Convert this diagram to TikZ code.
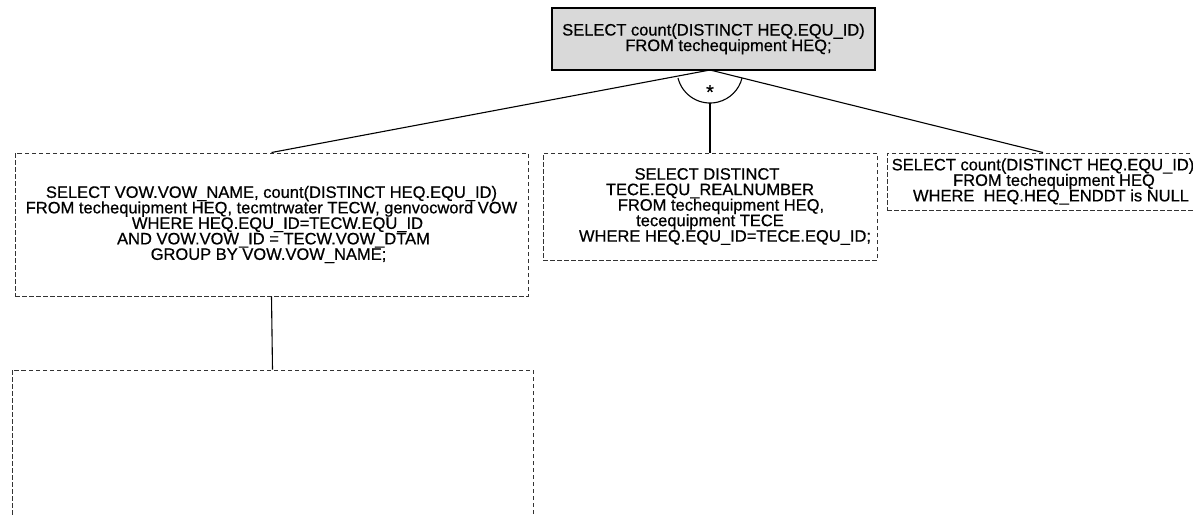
\documentclass[tikz,border=0pt]{standalone}
\usepackage{fontspec}
\setmainfont[FakeBold=0.6]{Liberation Sans}
\begin{document}
\begin{tikzpicture}[x=1pt, y=-1pt,
    query/.style={draw=black!80, dash pattern=on 4.5pt off 2.5pt, line width=1pt, inner sep=0pt,
      align=center, font=\fontsize{16.5}{15.5}\selectfont},
    root/.style={draw, fill=black!15, line width=2.8pt, inner sep=0pt, align=center,
      font=\fontsize{16.5}{15.5}\selectfont},
    link/.style={line width=1.1pt}
]
\useasboundingbox (0,0) rectangle (1193,515);
\clip (0,0) rectangle (1193,515);

\node[root, minimum width=323pt, minimum height=62pt] (top) at (713.5,39) {SELECT count(DISTINCT HEQ.EQU\_ID)\\ \hspace*{30pt}FROM techequipment HEQ;};
\coordinate (apex) at (710,70);

\node[query, minimum width=513pt, minimum height=143pt] (vow) at (271.5,224.5) {SELECT VOW.VOW\_NAME, count(DISTINCT HEQ.EQU\_ID)\\ FROM techequipment HEQ, tecmtrwater TECW, genvocword VOW\\ \hspace*{12pt}WHERE HEQ.EQU\_ID=TECW.EQU\_ID\\ \hspace*{4pt}AND VOW.VOW\_ID = TECW.VOW\_DTAM\\ GROUP BY VOW.VOW\_NAME;\hspace*{6pt}};
\node[query, minimum width=334pt, minimum height=107pt] (tece) at (710,206.5) {SELECT DISTINCT\hspace*{6pt}\\ TECE.EQU\_REALNUMBER\\ \hspace*{22pt}FROM techequipment HEQ,\\ tecequipment TECE\hspace*{40pt}\\ \hspace*{30pt}WHERE HEQ.EQU\_ID=TECE.EQU\_ID;};
\node[query, minimum width=312pt, minimum height=57pt] (heq) at (1043,181.5) {SELECT count(DISTINCT HEQ.EQU\_ID)\\ \hspace*{22pt}FROM techequipment HEQ\\ \hspace*{16pt}WHERE\ \ HEQ.HEQ\_ENDDT is NULL};
\node[query, minimum width=521pt, minimum height=190pt] (sub) at (272.5,465) {};

\draw[link] (apex) -- (vow.north);
\draw[link] (apex) -- (heq.north);
\draw[link] (710,102.5) -- (tece.north);
\draw[link] (vow.south) -- (sub.north);
% and-arc under the root
\draw[link] (678,78) arc[start angle=166, end angle=14, radius=33];
\node[font=\fontsize{20}{20}\selectfont] (star) at (710,92) {*};
\end{tikzpicture}
\end{document}
